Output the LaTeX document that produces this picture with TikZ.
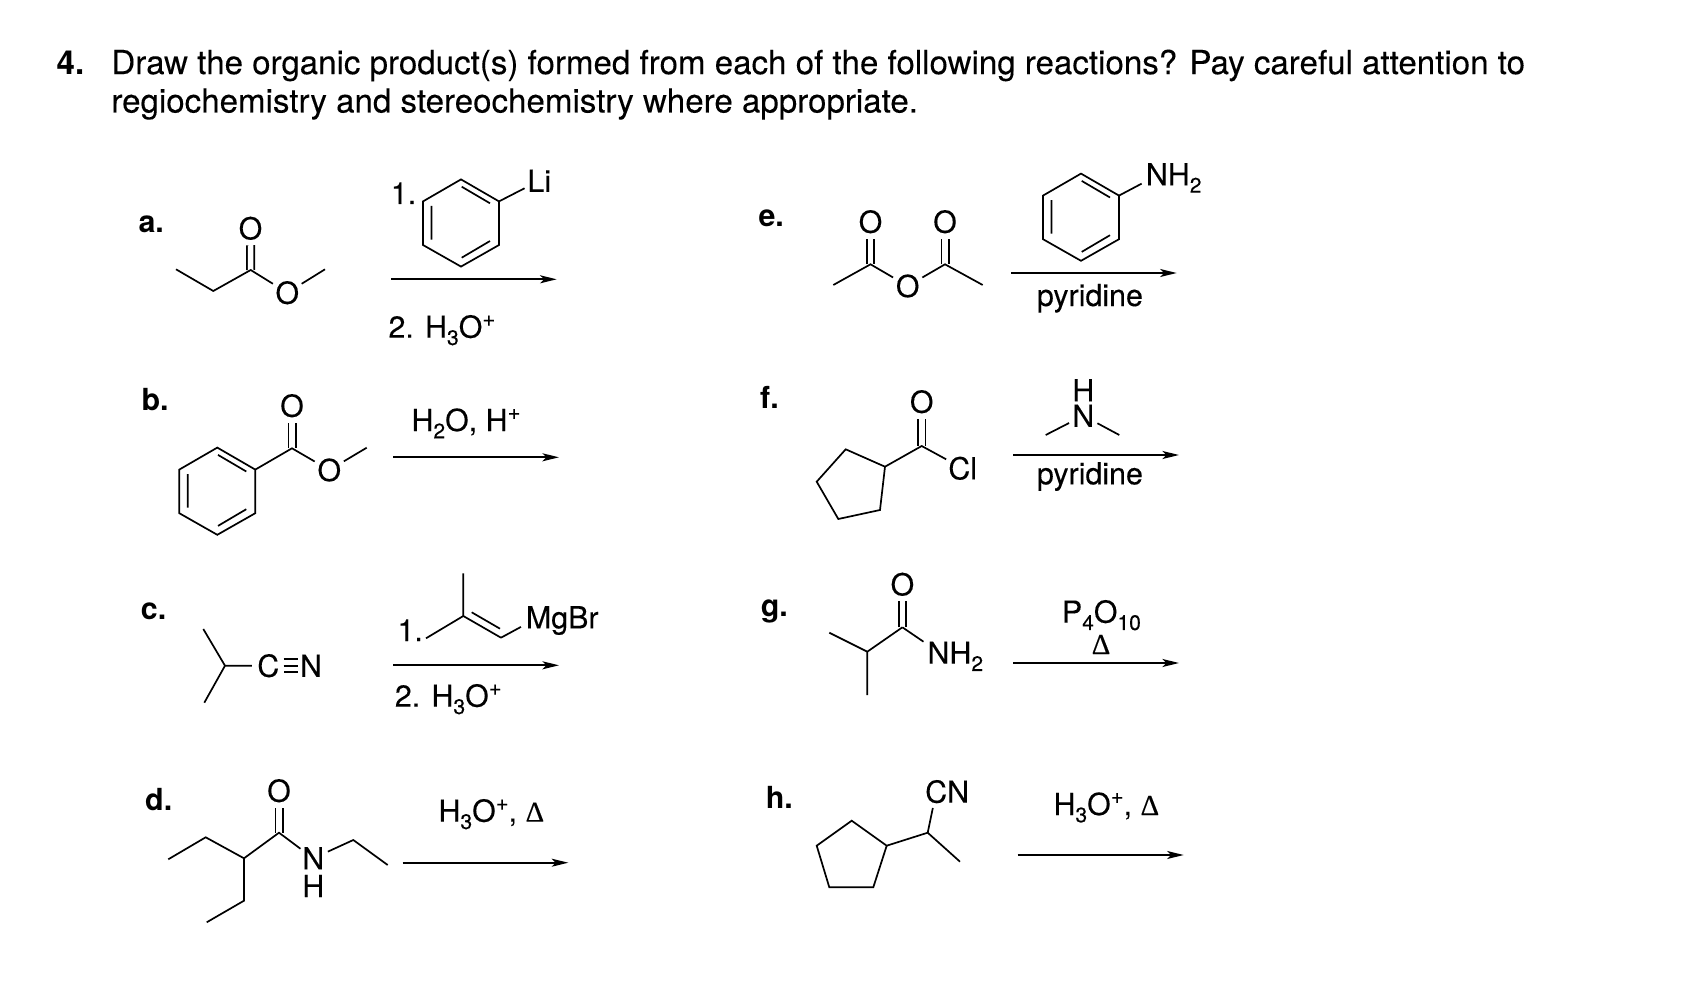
\documentclass[tikz,border=0pt]{standalone}
\usepackage{fontspec}
\usetikzlibrary{arrows.meta,calc}
\setmainfont[FakeBold=0.15,BoldFeatures={FakeBold=0}]{TeX Gyre Heros}
\newfontfamily\gk[FakeBold=0.2]{Liberation Serif}
\newcommand\dn[1]{\raisebox{-0.24em}{\fontsize{10.5}{10.5}\selectfont #1}}
\newcommand\up[1]{\raisebox{0.38em}{\fontsize{11}{11}\selectfont #1}}
\newcommand\hth{H\dn{3}O\up{+}}
\newcommand\dlt{{\gk\fontsize{14.5}{14.5}\selectfont Δ}}
\tikzset{
  x=0.5pt,y=-0.5pt,
  bond/.style={line width=0.85pt,line join=miter,black},
  dbl/.style={bond,double,double distance=2.8pt},
  tpl/.style={bond,double,double distance=5.6pt},
  rxn/.style={line width=0.85pt,-{Stealth[length=8.3pt,width=4pt,inset=2pt]}},
  atom/.style={circle,inner sep=0pt,font=\fontsize{15.2}{15.2}\selectfont},
  hatom/.style={rectangle,inner sep=0pt,text height=4.8pt,text depth=-4.8pt,font=\fontsize{15.2}{15.2}\selectfont},
  txt/.style={anchor=base west,inner sep=0,xshift=-0.6pt,yshift=-0.5pt,font=\fontsize{15.2}{15.2}\selectfont},
  lab/.style={anchor=base west,inner sep=0,xshift=-0.6pt,yshift=-0.4pt,font=\fontsize{15.2}{15.2}\selectfont\bfseries},
  head/.style={anchor=base west,inner sep=0,xshift=-1.5pt,yshift=-0.4pt,font=\fontsize{16.55}{16.55}\selectfont},
}
% benzene ring centred at #2,#3, with vertices named #1a ... #1f (b = upper right)
\newcommand\benzene[3]{%
  \begin{scope}[shift={(#2,#3)}]
    \coordinate (#1a) at (0,-43.6); \coordinate (#1b) at (38,-21.6);
    \coordinate (#1c) at (38,22);   \coordinate (#1d) at (0,43.6);
    \coordinate (#1e) at (-38,22);  \coordinate (#1f) at (-38,-21.6);
    \coordinate (#1g) at (0.7,-36.3); \coordinate (#1h) at (29,-19.7);
    \coordinate (#1i) at (0.7,34.7);  \coordinate (#1j) at (29,18);
    \coordinate (#1k) at (-29.5,-17); \coordinate (#1l) at (-29.5,16.5);
    \draw[bond] (#1a)--(#1b)--(#1c)--(#1d)--(#1e)--(#1f)--cycle;
    \draw[bond] (#1g)--(#1h) (#1i)--(#1j) (#1k)--(#1l);
  \end{scope}}
\newcommand\arrowx[4]{%
  \coordinate (#1s) at (#2,#4); \coordinate (#1t) at (#3,#4);
  \draw[rxn] (#1s)--(#1t);}
\begin{document}
\begin{tikzpicture}
\useasboundingbox (0,0) rectangle (1688,990);
\fill[white] (0,0) rectangle (1688,990);
% heading
\node[head,font=\fontsize{16.55}{16.55}\selectfont\bfseries,xshift=0.5pt] (num) at (58.3,73.3) {4.};
\node[head] (h1) at (114,73.3) {Draw the organic product(s) formed from each of the following reactions? Pay careful attention to};
\node[head] (h2) at (114,111.7) {regiochemistry and stereochemistry where appropriate.};

% ---------- a
\node[lab] (la) at (139.3,231.7) {a.};
\coordinate (a1) at (176,269.3); \coordinate (a2) at (213.3,291); \coordinate (a3) at (250.7,270); \coordinate (a6) at (325,269.3);
\node[atom] (a4) at (250.5,228.3) {O};
\node[atom] (a5) at (287.3,292.7) {O};
\draw[dbl] (a3)--(a4);
\draw[bond] (a1)--(a2)--(a3)--(a5)--(a6);
\benzene{ar}{461}{223}
\node[atom] (ali) at (539.3,180.7) {Li};
\draw[bond] (arb)--(ali);
\node[txt] (a1t) at (391.7,203) {1.};
\arrowx{ax}{391}{556.7}{279.3}
\node[txt] (a2t) at (389.3,336.7) {2. \hth};

% ---------- b
\node[lab] (lb) at (142.3,410) {b.};
\benzene{br}{217.3}{491.2}
\coordinate (b1) at (292,448.3); \coordinate (b4) at (366.7,447.7);
\node[atom] (b2) at (292,405.7) {O};
\node[atom] (b3) at (329.3,470) {O};
\draw[dbl] (b1)--(b2);
\draw[bond] (brb)--(b1)--(b3)--(b4);
\node[txt] (bt) at (412.3,430) {H\dn{2}O, H\up{+}};
\arrowx{bx}{393.3}{559}{457.3}

% ---------- c
\node[lab] (lc) at (141.7,618.3) {c.};
\coordinate (c1) at (203.3,629); \coordinate (c2) at (225,665.7); \coordinate (c3) at (204.3,702.7);
\node[atom] (c4) at (268.3,665.7) {C};
\node[atom] (c5) at (311,665.7) {N};
\draw[tpl,shorten <=-0.5pt,shorten >=-1.5pt] (c4)--(c5);
\draw[bond,shorten <=-0.5pt,shorten >=-1.5pt] (c4)--(c5);
\draw[bond] (c1)--(c2)--(c3) (c2)--(c4);
\coordinate (cm1) at (463.3,573.3); \coordinate (cm2) at (463.3,616); \coordinate (cm3) at (426,638.3); \coordinate (cm4) at (501,637.7);
\coordinate (cm5) at (471.7,612.3); \coordinate (cm6) at (500,628.7);
\node[txt] (cmg) at (526.7,627.3) {MgBr};
\coordinate (cmp) at ($(cmg.base west)!.5!(cmg.west)$);
\draw[bond] (cm1)--(cm2)--(cm3) (cm2)--(cm4) (cm5)--(cm6);
\draw[bond,shorten >=2.6pt] (cm4)--(cmp);
\node[txt] (c1t) at (398.3,640) {1.};
\arrowx{cx}{393.3}{559}{665.3}
\node[txt] (c2t) at (395.7,705.7) {2. \hth};

% ---------- d
\node[lab] (ld) at (146,809.3) {d.};
\coordinate (d1) at (168.3,859.3); \coordinate (d2) at (205.7,837.3); \coordinate (d3) at (244,858.3); \coordinate (d4) at (279,832.7);
\coordinate (d5) at (244,900.7); \coordinate (d6) at (206.7,922.3); \coordinate (d7) at (353.3,840); \coordinate (d8) at (387.7,865);
\node[atom] (dO) at (279,790.7) {O};
\node[atom] (dN) at (313.3,858.3) {N};
\node[txt,anchor=base,xshift=0.6pt] (dH) at (313.3,896) {H};
\draw[dbl] (d4)--(dO);
\draw[bond] (d1)--(d2)--(d3)--(d4)--(dN)--(d7)--(d8) (d3)--(d5)--(d6);
\node[txt] (dt) at (439.3,820.7) {\hth, \dlt};
\arrowx{dx}{402.7}{568.3}{862.7}

% ---------- e
\node[lab] (le) at (759.3,226) {e.};
\coordinate (e1) at (833.3,285); \coordinate (e2) at (870.5,264.3); \coordinate (e3) at (945,264.3); \coordinate (e4) at (982.7,285);
\node[atom] (eO1) at (870.5,221.7) {O};
\node[atom] (eO2) at (945,221.7) {O};
\node[atom] (eO3) at (907.7,286) {O};
\draw[dbl] (e2)--(eO1);
\draw[dbl] (e3)--(eO2);
\draw[bond] (e1)--(e2)--(eO3)--(e3)--(e4);
\benzene{er}{1081}{217.2}
\node[txt] (enh) at (1146.7,184.3) {NH\dn{2}};
\coordinate (enp) at ($(enh.base west)!.5!(enh.west)$);
\draw[bond,shorten >=2.2pt] (erb)--(enp);
\arrowx{ex}{1011}{1176.7}{273}
\node[txt] (et) at (1037.7,305) {pyridine};

% ---------- f
\node[lab] (lf) at (761,407.3) {f.};
\coordinate (f1) at (921.7,446); \coordinate (f3) at (885,466.7); \coordinate (f4) at (845.7,449.3);
\coordinate (f5) at (816.7,481.7); \coordinate (f6) at (838.3,519); \coordinate (f7) at (880,510);
\node[atom] (fO) at (921.7,401.7) {O};
\node[atom] (fCl) at (962.7,468.3) {Cl};
\draw[dbl] (f1)--(fO);
\draw[bond] (f3)--(f4)--(f5)--(f6)--(f7)--cycle (f3)--(f1)--(fCl);
\node[txt,anchor=base,xshift=0.6pt] (fH) at (1083.3,400.3) {H};
\node[atom] (fN) at (1083.3,415.7) {N};
\coordinate (fa) at (1045.7,435); \coordinate (fb) at (1119.3,435);
\draw[bond] (fa)--(fN)--(fb);
\arrowx{fx}{1013.3}{1179}{455}
\node[txt] (ft) at (1037.7,483.3) {pyridine};

% ---------- g
\node[lab] (lg) at (761.7,616) {g.};
\coordinate (g1) at (829.3,632.7); \coordinate (g2) at (867.3,651.7); \coordinate (g3) at (867.3,695); \coordinate (g4) at (902.4,627.3);
\node[atom] (gO) at (902.4,584.3) {O};
\draw[dbl] (g4)--(gO);
\node[txt] (gnh) at (928.3,662.7) {NH\dn{2}};
\coordinate (gnp) at ($(gnh.north west)!.2!(gnh.west)$);
\draw[bond] (g1)--(g2)--(g3) (g2)--(g4);
\draw[bond,shorten >=2.2pt] (g4)--(gnp);
\node[txt] (gt) at (1062.7,621.7) {P\dn{4}O\dn{10}};
\node[anchor=base,inner sep=0] (gd) at (1101,654) {\dlt};
\arrowx{gx}{1013.3}{1179}{663}

% ---------- h
\node[lab] (lh) at (766.7,807.3) {h.};
\coordinate (h3) at (927.7,832.7); \coordinate (h4) at (960,861.7); \coordinate (h5) at (886.7,845.7);
\coordinate (h6) at (851.7,820.7); \coordinate (h7) at (816.7,845.7); \coordinate (h8) at (829.3,887.3); \coordinate (h9) at (873.3,887.3);
\node[txt] (hcn) at (926,801.7) {CN};
\coordinate (hcp) at ($(hcn.south west)!.2!(hcn.south east)$);
\draw[bond] (h5)--(h6)--(h7)--(h8)--(h9)--cycle (h5)--(h3)--(h4);
\draw[bond,shorten >=2.2pt] (h3)--(hcp);
\node[txt] (ht) at (1054.3,814) {\hth, \dlt};
\arrowx{hx}{1017.7}{1183.7}{855}
\end{tikzpicture}
\end{document}
